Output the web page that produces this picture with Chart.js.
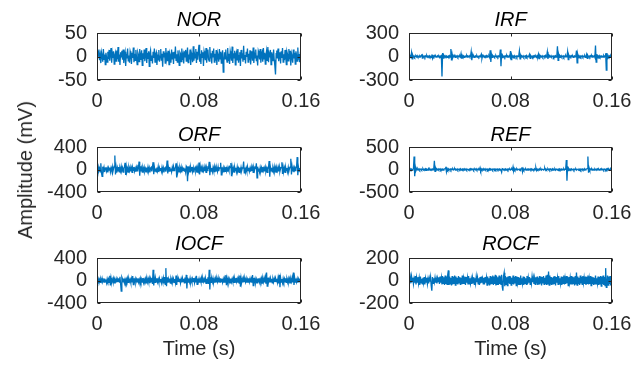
<!DOCTYPE html>
<html>
<head>
<meta charset="utf-8">
<script src="https://cdn.jsdelivr.net/npm/chart.js@4.4.0/dist/chart.umd.min.js"></script>
<style>
  body { margin: 0; background: #fff; }
  #wrap { position: relative; width: 642px; height: 367px; overflow: hidden; }
  canvas { position: absolute; }
  #ylab {
    position: absolute; left: 25px; top: 170px;
    transform: translate(-50%, -50%) rotate(-90deg);
    font: 20px "Liberation Sans", Arial, sans-serif; line-height: 24px;
    color: #262626; white-space: nowrap;
  }
</style>
</head>
<body>
<div id="wrap">
  <canvas id="nor" width="321" height="113" style="left:0;top:0"></canvas>
  <canvas id="irf" width="321" height="113" style="left:321px;top:0"></canvas>
  <canvas id="orf" width="321" height="113" style="left:0;top:113px"></canvas>
  <canvas id="ref" width="321" height="113" style="left:321px;top:113px"></canvas>
  <canvas id="iocf" width="321" height="141" style="left:0;top:226px"></canvas>
  <canvas id="rocf" width="321" height="141" style="left:321px;top:226px"></canvas>
  <div id="ylab">Amplitude (mV)</div>
</div>
<script>
// one sample every 0.5 ms, 0 .. 0.16 s
const sampleStep = 0.0005
const timeTicks = [0, 0.08, 0.16]

const norTicks = [-50, 0, 50]
const irfTicks = [-300, 0, 300]
const orfTicks = [-400, 0, 400]
const refTicks = [-500, 0, 500]
const iocfTicks = [-400, 0, 400]
const rocfTicks = [-200, 0, 200]

const norValues = [
  12, -4, 6, 15, -8, 3, -14, 9, 2, -11, 16, -6, 4, -17, 8, -2, -12, 10, -5, 14,
  -9, 5, 18, -13, 7, -3, 11, -16, 2, 8, -10, 13, -6, 20, -11, 4, -18, 9, -1, 12,
  -7, 15, -14, 3, 10, -20, 6, -4, 17, -9, 2, -13, 11, 5, -16, 8, -3, 19, -12, 6,
  -8, 14, -2, -17, 9, 4, -11, 16, -6, 1, 13, -19, 7, -5, 15, -10, 3, 18, -14, 8,
  -4, 11, -21, 6, 13, -8, 2, -15, 10, -3, 17, -12, 5, 9, -18, 4, -7, 14, -11, 1,
  16, -9, 6, -22, 11, -2, 8, -14, 18, -6, 3, -10, 12, -17, 7, 2, -13, 15, -5, 9,
  -16, 10, -4, 21, -8, 5, -12, 13, -1, -19, 9, 6, -11, 17, -7, 3, -15, 11, -2, 14,
  -10, 7, 19, -13, 4, -6, 15, -18, 8, 1, -12, 22, -9, 5, -3, 16, -14, 10, -7, 12,
  25, -11, 6, -16, 13, -2, 9, -20, 11, 4, -8, 18, -13, 3, 15, -6, -10, 20, -4, 7,
  -15, 12, -1, 17, -12, 6, -9, 14, -18, 8, 2, -11, 16, -5, 10, -14, 4, 13, -33, -10,
  9, -5, 15, -2, -12, 18, -8, 6, -16, 11, 3, -9, 21, -14, 7, -3, 12, -18, 5, 10,
  -7, 16, -13, 2, 9, -20, 14, -4, 7, -11, 23, -6, 3, -15, 10, -1, 17, -12, 6, -8,
  13, -17, 4, 11, -9, 19, -14, 6, -3, 15, -10, 2, -19, 12, 7, -6, 16, -13, 4, 9,
  -11, 18, -5, 8, -16, 3, 12, -8, 20, -12, 5, -2, 14, -17, 9, 1, -10, 15, -7, -20,
  -38, 6, 13, -4, 17, -10, 2, 9, -15, 11, -3, 18, -12, 5, -8, 14, -1, -17, 10, 4,
  -9, 16, -6, 12, -19, 7, 1, -13, 15, -4, 8, -16, 11, 3, -10, 19, -7, 5, -12, 9,
  14
]

const irfValues = [
  4, -7, 9, -3, 50, -30, 15, -8, 6, -10, 3, 8, -5, 11, -6, 2, -9, 7, -4, 10,
  28, -20, 9, -6, 4, -11, 7, -3, 12, -8, 5, -2, 9, -7, 3, -10, 25, -22, 8, -5,
  11, -4, 6, -9, 2, 10, -6, 4, -12, 7, -3, 8, -255, 45, -20, 12, -7, 9, -4, 6,
  -10, 3, 8, -5, 11, -7, 95, -50, 30, -14, 9, -6, 4, -11, 7, -2, 10, -8, 5, -3,
  9, -6, 35, -28, 12, -5, 8, -10, 3, 7, -4, 11, -8, 5, -2, 9, -6, 4, 60, -48,
  22, -9, 6, -12, 4, 8, -5, 10, -7, 3, -9, 6, -3, 11, 30, -25, 10, -6, 4, -8,
  7, -3, 10, -9, 5, -2, 8, -11, 80, -70, 28, -12, 9, -5, 6, -8, 3, 11, -6, 4,
  -9, 7, -4, 10, 90, -125, 40, -15, 9, -6, 5, -10, 7, -3, 12, -8, 4, -5, 9, -7,
  70, -40, 18, -9, 6, -4, 10, -7, 3, 8, -11, 5, -2, 9, 70, -30, 14, -8, 6, -4,
  9, -10, 3, 7, -5, 11, -8, 4, -3, 10, 28, -24, 9, -6, 5, -9, 7, -2, 10, -6,
  4, -11, 8, -3, 30, -26, 10, -7, 6, -4, 9, -10, 3, 7, -5, 11, -8, 4, 60, -30,
  16, -9, 7, -4, 10, -6, 3, 8, -11, 5, -3, 9, -7, 4, 130, -50, 24, -12, 8, -5,
  10, -7, 3, 9, -10, 5, -4, 11, -6, 2, 60, -40, 16, -8, 7, -5, 9, -3, 6, -10,
  4, 8, -6, 10, 75, -80, 26, -12, 9, -5, 6, -9, 3, 11, -7, 4, -3, 8, -10, 6,
  30, -25, 11, -6, 4, -9, 8, -3, 10, -7, 5, -2, 9, -11, 140, -70, 30, -14, 8, -5,
  10, -7, 4, -9, 6, 3, -8, 11, -5, 7, 40, -175, 45, -18, 10, -6, 8, -4, 9, -7,
  5
]

const orfValues = [
  20, -30, 45, -15, 25, -40, 110, -60, -120, 50, -25, 35, -45, 15, 40, -30, 20, -50, 30, -10,
  35, -45, 25, -20, 50, -35, 15, 60, 250, -90, 40, -55, 30, -25, 45, -40, 20, -30, 55, -15,
  30, -45, 25, 40, 120, -95, 50, -30, 20, -45, 35, -20, 40, -35, 25, -50, 30, -15, 45, -30,
  20, -40, 35, -25, 50, 30, 140, -110, 55, -35, 25, -45, 30, -20, 40, -30, 15, -40, 35, -25,
  45, -20, 30, -50, 25, 40, -35, 50, 130, -85, 45, -30, 20, -40, 35, -25, 50, -45, 30, -15,
  25, -35, 40, -20, 30, -50, 20, 35, -40, 25, 160, -70, 40, -30, 45, -25, 20, -40, 35, -30,
  50, -20, 25, 30, 110, -140, 45, -35, 20, -40, 30, -25, 40, -50, 25, -15, 35, -30, 20, -45,
  60, 40, -210, 55, -30, 25, -40, 35, -20, 45, -35, 30, -50, 20, 40, -25, 30, -45, 25, -20,
  125, -90, 50, -35, 30, -40, 20, -25, 45, -30, 35, -50, 25, -20, 40, 30, 135, -100, 45, -30,
  25, -40, 35, -20, 50, -45, 30, -25, 20, -35, 45, -30, 30, 25, 120, -95, 40, -25, 30, -50,
  20, -35, 45, -25, 30, -40, 25, -20, 50, 35, 115, -120, 45, -30, 25, -45, 35, -20, 30, -40,
  45, -25, 20, -50, 35, -30, 40, -20, 25, 30, 140, -60, 35, -45, 25, -30, 50, -20, 30, -35,
  20, -40, 45, -25, 35, -50, 30, -20, 40, 25, 110, -150, 50, -30, 20, -45, 35, -25, 30, -40,
  45, -20, 25, -35, 40, -30, 20, -50, 35, 30, 150, -130, 45, -25, 30, -40, 20, -35, 50, -25,
  30, -45, 25, -20, 40, -35, 50, -30, 20, 35, 130, -80, 45, -25, 30, -50, 35, -20, 25, -40,
  40, -30, 20, 45, 190, -90, 50, -35, 25, -45, 30, -20, 40, 35, 220, -100, 45, -30, 25, -40,
  20
]

const refValues = [
  8, -12, 15, -6, 10, -14, 5, 12, 290, -150, 60, -25, 14, -9, 18, -7, 11, -15, 6, 13,
  -10, 4, 16, -12, 8, -5, 14, -17, 9, 3, -11, 15, -6, 10, -13, 7, -4, 12, -9, 16,
  195, -40, 30, -14, 9, -7, 13, -10, 5, 15, -12, 8, -4, 11, -16, 6, 12, 20, 60, -50,
  22, -11, 14, -8, 5, 12, -15, 9, -3, 13, -10, 7, 16, -12, 4, -8, 11, -14, 6, 10,
  -7, 15, -11, 3, 12, -9, 8, -16, 10, -5, 14, -12, 7, 4, -13, 11, -6, 15, -10, 8,
  -4, 13, -15, 6, 11, -8, 16, -11, 5, -7, 12, -3, 40, -25, 14, -9, 8, -13, 10, -6,
  15, -10, 4, 12, -14, 7, -5, 16, -12, 9, -3, 11, -15, 6, 13, -8, 10, -11, 5, 14,
  -9, 7, -13, 11, 4, -16, -60, 20, 15, -10, 8, -6, 13, -12, 5, 10, -14, 9, -4, 12,
  -11, 6, 15, -8, 60, -30, 18, -12, 9, -5, 14, -10, 7, 3, -13, 11, -7, 16, 50, -50,
  20, -12, 8, -6, 14, -11, 5, 10, -15, 7, -3, 13, -9, 11, -14, 6, 4, -10, 15, -7,
  40, -20, 12, -8, 6, -13, 10, -4, 15, -11, 7, 3, -12, 9, 30, -15, 11, -9, 5, 13,
  -10, 8, -14, 12, 4, -7, 16, -11, 6, -5, 13, -15, 9, 2, -12, 10, -6, 14, -9, 7,
  -13, 11, 5, -8, 15, -10, 6, 12, 210, -250, 70, -25, 15, -12, 9, -6, 13, -10, 4, 11,
  -15, 8, -4, 14, -11, 7, 3, -13, 12, -7, 10, -16, 6, 15, -9, 5, -12, 11, -6, 9,
  14, 20, 290, -70, 35, -14, 10, -8, 13, -11, 6, 4, -15, 12, -7, 9, -3, 14, -10, 8,
  -12, 5, 15, -9, 11, -6, 7, -14, 10, 3, -11, 13, -8, 16, -5, 9, -13, 6, 12, -10,
  7
]

const iocfValues = [
  15, -25, 30, -10, 20, -35, 25, -15, 40, -20, 10, -30, 35, -25, 20, -40, 30, -15, 25, -35,
  85, -90, 45, -30, 20, -25, 35, -40, 15, -20, 30, -35, 25, -15, 40, -30, 65, -50, -190, 60,
  30, -25, 35, -40, 20, -30, 25, -15, 40, -35, 30, -20, 15, -40, 35, -25, 80, -75, 40, -20,
  30, -35, 20, -25, 40, -30, 15, -40, 35, -20, 25, -30, 45, -35, 20, -15, 30, -40, 25, -30,
  35, -20, 40, -45, 30, -25, 50, -60, 190, -90, 45, -35, 30, -25, 40, -30, 20, -35, 35, -25,
  25, -40, 30, -20, 45, -50, 60, -70, 220, -100, 55, -40, 30, -25, 35, -45, 20, -30, 40, -20,
  30, -35, 25, -40, 90, -80, 40, -25, 35, -20, 30, -45, 25, -35, 40, -20, 30, -40, 55, -45,
  100, -140, 50, -30, 35, -25, 40, -35, 20, -30, 30, -20, 45, -40, 25, -35, 85, -70, 35, -25,
  30, -40, 20, -25, 45, -30, 35, -20, 25, -35, 40, -50, 30, -45, 60, -60, 190, -160, 55, -35,
  30, -25, 40, -30, 20, -40, 35, -25, 30, -20, 45, -35, 25, -30, 40, -20, 30, -35, 25, -40,
  35, -30, 95, -85, 40, -25, 30, -35, 20, -40, 35, -25, 30, -20, 40, -35, 25, -30, 45, -20,
  30, -40, 35, -45, 90, -110, 45, -30, 25, -35, 40, -20, 30, -25, 35, -40, 20, -30, 40, -25,
  30, -35, 25, -40, 95, -90, 45, -25, 30, -35, 20, -40, 35, -25, 40, -30, 25, -20, 35, -45,
  30, -25, 40, -35, 50, -55, 140, -100, 50, -30, 25, -35, 40, -25, 30, -40, 20, -30, 35, -25,
  40, -20, 30, -35, 45, -50, 100, -120, 45, -30, 25, -40, 35, -20, 30, -25, 40, -35, 20, -30,
  35, -25, 30, -40, 25, -20, 45, -35, 140, -80, 50, -30, 35, -25, 30, -40, 25, -20, 35, -30,
  15
]

const rocfValues = [
  20, -15, 30, -25, 35, -10, 25, -30, 15, -20, 40, -35, 25, -15, 30, -25, 20, -40, 35, -20,
  15, -30, 25, -20, 30, -35, 20, -15, 25, -30, 15, -25, 20, -10, 30, -45, -90, 30, -25, 20,
  -15, 25, -20, 15, -25, 20, -10, 30, -30, 35, -20, 25, -35, 40, -25, 30, -40, 45, -30, 35,
  -35, 50, 90, -40, 35, -30, 25, -45, 40, -35, 30, -25, 45, -40, 35, -30, 25, -35, 40, -20,
  30, -40, 25, -35, 45, -30, 20, -25, 35, -40, 30, -20, 25, -35, 40, -30, 20, -25, 15, -30,
  25, -20, 30, -35, 20, -25, 35, -15, 25, -30, 20, -40, 30, -25, 35, -20, 15, -30, 25, -35,
  30, -20, 25, -40, 35, -30, 20, -45, 40, -35, 30, -25, 45, -40, 35, -30, 50, -45, 40, -35,
  30, -40, 45, -30, 35, -40, 50, -55, -90, 40, 70, -50, 40, -35, 30, -45, 35, -25, 40, -30,
  35, -40, 25, -30, 45, -35, 30, -25, 40, -45, 35, -20, 30, -40, 25, -35, 45, -30, 20, -25,
  35, -40, 30, -25, 20, -35, 40, -30, 25, -20, 30, -35, 20, -25, 35, -15, 25, -30, 20, -35,
  30, -25, 35, -40, 25, -30, 40, -20, 35, -45, 30, -25, 40, -35, 25, -30, 45, -40, 50, -35,
  80, -40, 45, -35, 30, -40, 25, -30, 35, -25, 40, -45, 30, -20, 25, -35, 40, -30, 20, -25,
  35, -40, 30, -25, 45, -35, 20, -30, 40, -25, 35, -45, 30, -20, 25, -35, 40, -30, 35, -25,
  30, -45, 40, -35, 70, -40, 35, -30, 25, -40, 45, -25, 30, -35, 40, -20, 25, -30, 35, -40,
  30, -25, 45, -35, 20, -30, 40, -45, 35, -25, 30, -40, 25, -35, 45, -30, 20, -25, 35, -40,
  30, -35, 40, -50, 35, -30, 45, -40, 30, -45, 110, -60, -50, 45, -40, 35, -30, 40, -45, 30,
  -25
]

const ink = '#262626'
const lineBlue = '#0072BD'

Chart.defaults.font.family = '"Liberation Sans", Arial, Helvetica, sans-serif'
Chart.defaults.font.size = 20
Chart.defaults.color = ink

// top of the box, title centre and x axis height for each row of panels
const rows = [
  { chartTop: 33, titleY: 20, axisHeight: 33 },
  { chartTop: 34, titleY: 22, axisHeight: 34 },
  { chartTop: 32, titleY: 18.5, axisHeight: 64 }
]

// panel title centred over the plot box, not the whole canvas
const titlePlugin = {
  id: 'panelTitle',
  afterDraw(chart, args, opts) {
    const { ctx, chartArea: a } = chart
    ctx.save()
    ctx.font = 'italic 20px "Liberation Sans", Arial, sans-serif'
    ctx.fillStyle = '#000'
    ctx.textAlign = 'center'
    ctx.textBaseline = 'middle'
    ctx.fillText(opts.text, (a.left + a.right) / 2, opts.y)
    ctx.restore()
  }
}

// MATLAB-like box with inward tick marks
const boxPlugin = {
  id: 'box',
  afterDraw(chart) {
    const { ctx, chartArea: a, scales } = chart
    const l = Math.round(a.left) + 0.5
    const r = Math.round(a.right) - 0.5
    const t = Math.round(a.top) + 0.5
    const b = Math.round(a.bottom) - 0.5
    ctx.save()
    ctx.strokeStyle = ink
    ctx.lineWidth = 1
    ctx.strokeRect(l, t, r - l, b - t)
    ctx.beginPath()
    for (const tick of scales.x.ticks) {
      const px = Math.round(scales.x.getPixelForValue(tick.value)) + 0.5
      ctx.moveTo(px, b); ctx.lineTo(px, b - 3)
      ctx.moveTo(px, t); ctx.lineTo(px, t + 3)
    }
    for (const tick of scales.y.ticks) {
      const py = Math.round(scales.y.getPixelForValue(tick.value)) + 0.5
      ctx.moveTo(l, py); ctx.lineTo(l + 3, py)
      ctx.moveTo(r, py); ctx.lineTo(r - 3, py)
    }
    ctx.stroke()
    ctx.restore()
  }
}

function makePanel(id, name, values, yTicks, row, left, showXTitle) {
  const cfg = rows[row]
  const points = values.map((v, i) => ({ x: i * sampleStep, y: v }))
  new Chart(document.getElementById(id), {
    type: 'line',
    data: {
      datasets: [{
        data: points,
        borderColor: lineBlue,
        borderWidth: 1.3,
        pointRadius: 0,
        tension: 0
      }]
    },
    plugins: [boxPlugin, titlePlugin],
    options: {
      responsive: false,
      animation: false,
      events: [],
      layout: { padding: { left: 0, right: left ? 20 : 30, top: cfg.chartTop, bottom: 0 } },
      plugins: {
        legend: { display: false },
        tooltip: { enabled: false },
        panelTitle: { text: name, y: cfg.titleY }
      },
      scales: {
        x: {
          type: 'linear',
          min: 0,
          max: 0.16,
          grid: { display: false, drawTicks: false },
          border: { display: false },
          afterBuildTicks: s => { s.ticks = timeTicks.map(v => ({ value: v })) },
          afterFit: s => {
            s.height = cfg.axisHeight
            // labels may hang past the box; the layout padding already leaves room
            s.paddingLeft = 0
            s.paddingRight = 0
          },
          ticks: { padding: 9, maxRotation: 0, autoSkip: false, callback: v => String(v) },
          title: { display: showXTitle, text: 'Time (s)', padding: { top: 0, bottom: 6 } }
        },
        y: {
          min: yTicks[0],
          max: yTicks[yTicks.length - 1],
          grid: { display: false, drawTicks: false },
          border: { display: false },
          afterBuildTicks: s => { s.ticks = yTicks.map(v => ({ value: v })) },
          afterFit: s => { s.width = left ? 97 : 88 },
          ticks: { padding: 10, autoSkip: false, callback: v => String(v) }
        }
      }
    }
  })
}

makePanel('nor', 'NOR', norValues, norTicks, 0, true, false)
makePanel('irf', 'IRF', irfValues, irfTicks, 0, false, false)
makePanel('orf', 'ORF', orfValues, orfTicks, 1, true, false)
makePanel('ref', 'REF', refValues, refTicks, 1, false, false)
makePanel('iocf', 'IOCF', iocfValues, iocfTicks, 2, true, true)
makePanel('rocf', 'ROCF', rocfValues, rocfTicks, 2, false, true)
</script>
</body>
</html>
